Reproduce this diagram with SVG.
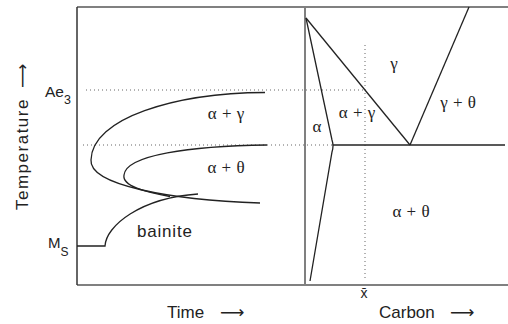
<svg xmlns="http://www.w3.org/2000/svg" width="508" height="324" viewBox="0 0 508 324">
<style>
.frame{stroke:#808080;stroke-width:2;fill:none}
.axis{stroke:#333;stroke-width:1.5;fill:none}
.curve{stroke:#222;stroke-width:1.3;fill:none}
.dot{stroke:#666;stroke-width:1;stroke-dasharray:1 3;fill:none}
.sans{font-family:"Liberation Sans",Arial,sans-serif;fill:#222}
.greek{font-family:"Liberation Serif","Times New Roman",serif;font-size:17px;fill:#222;text-anchor:middle;word-spacing:1px}
.arrow{font-family:"DejaVu Sans",sans-serif;font-size:17px;fill:#222}
</style>
<rect width="508" height="324" fill="#fff"/>
<g id="frame">
  <line class="frame" x1="77" y1="7" x2="508" y2="7"/>
  <line class="frame" x1="77" y1="285" x2="508" y2="285"/>
  <line class="frame" x1="305" y1="7" x2="305" y2="285"/>
  <line class="axis" x1="77" y1="7" x2="77" y2="285"/>
</g>
<g id="guides">
  <line class="dot" x1="86" y1="90" x2="365" y2="90"/>
  <line class="dot" x1="83" y1="145" x2="333" y2="145"/>
  <line class="dot" x1="365" y1="45" x2="365" y2="280"/>
</g>
<g id="ttt-curves">
  <path id="ms-line" class="curve" d="M77 246 L105 246 C106 226 140 198 198 194"/>
  <path id="alpha-gamma-curve" class="curve" d="M265 92.5 C175 93 92 118 91 160 C89 185 170 200 260 203"/>
  <path id="alpha-theta-curve" class="curve" d="M267 145 C190 146 126 155 124 175 C122 186 145 192 170 196.5"/>
</g>
<g id="phase-lines">
  <path class="curve" d="M306 18 L332 140 Q334 146 332 152 L310 281"/>
  <line class="curve" x1="306" y1="18" x2="410" y2="145"/>
  <line class="curve" x1="410" y1="145" x2="469" y2="7"/>
  <line class="curve" x1="333" y1="145" x2="505" y2="145"/>
</g>
<g id="labels">
  <text class="sans" x="45" y="97" font-size="15.5">Ae<tspan font-size="12.5" dy="7">3</tspan></text>
  <text class="sans" x="48" y="248" font-size="15">M<tspan font-size="12" dy="8">S</tspan></text>
  <text class="sans" font-size="17" transform="translate(27.5,210) rotate(-90)" letter-spacing="1.5">Temperature</text>
  <text class="arrow" transform="translate(27.5,88) rotate(-90)">⟶</text>
  <text class="sans" x="137" y="236.5" font-size="17" letter-spacing="0.8">bainite</text>
  <text class="sans" x="167" y="318" font-size="17">Time</text>
  <text class="arrow" x="220" y="318">⟶</text>
  <text class="sans" x="379" y="318" font-size="17">Carbon</text>
  <text class="arrow" x="450" y="318">⟶</text>
  <text class="sans" x="364" y="298" font-size="14" text-anchor="middle">x̄</text>
  <text class="greek" x="226" y="119">α + γ</text>
  <text class="greek" x="226" y="173">α + θ</text>
  <text class="greek" x="394" y="69">γ</text>
  <text class="greek" x="357" y="118">α + γ</text>
  <text class="greek" x="317" y="132">α</text>
  <text class="greek" x="458" y="108">γ + θ</text>
  <text class="greek" x="411" y="217">α + θ</text>
</g>
</svg>
